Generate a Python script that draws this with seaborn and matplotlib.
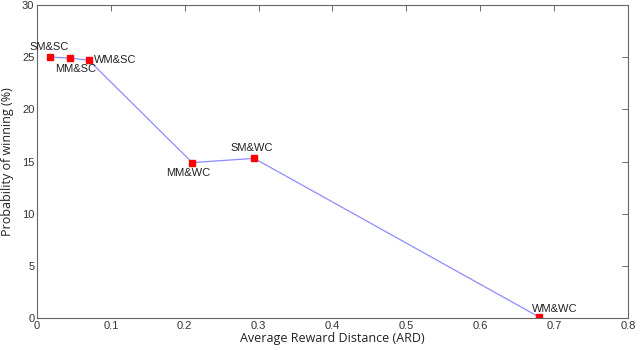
import matplotlib
matplotlib.use('Agg')
import matplotlib.pyplot as plt
import seaborn as sns
import pandas as pd

# data
labels = ['SM&SC', 'MM&SC', 'WM&SC', 'MM&WC', 'SM&WC', 'WM&WC']
ard = [0.018, 0.045, 0.070, 0.210, 0.294, 0.680]
win_prob = [25.0, 24.9, 24.7, 14.9, 15.3, 0.1]

# label offsets in points (dx, dy) and alignment
label_offsets = [(-1, 4, 'center', 'bottom'),
                 (4, -4, 'center', 'top'),
                 (4, 0, 'left', 'center'),
                 (-3, -4, 'center', 'top'),
                 (-2, 4, 'center', 'bottom'),
                 (-5, 2, 'left', 'bottom')]

df = pd.DataFrame({'ard': ard, 'win': win_prob, 'label': labels})

sns.set_style('white')
plt.rcParams['font.family'] = ['Liberation Sans', 'DejaVu Sans']

fig = plt.figure(figsize=(6.4, 3.5), dpi=100)
ax = fig.add_axes([0.058, 0.091, 0.923, 0.895])

sns.lineplot(data=df, x='ard', y='win', sort=False, color='#8c8cff',
             linewidth=0.9, ax=ax)
ax.plot(df['ard'], df['win'], linestyle='none', marker='s', markersize=5,
        color='red', markeredgecolor='red')

for (x, y, lab), (dx, dy, ha, va) in zip(zip(ard, win_prob, labels), label_offsets):
    ax.annotate(lab, (x, y), xytext=(dx, dy), textcoords='offset points',
                ha=ha, va=va, fontsize=8, color='#222222')

ax.set_xlim(0, 0.8)
ax.set_ylim(0, 30)
ax.set_xticks([0, 0.1, 0.2, 0.3, 0.4, 0.5, 0.6, 0.7, 0.8])
ax.set_xticklabels(['0', '0.1', '0.2', '0.3', '0.4', '0.5', '0.6', '0.7', '0.8'])
ax.set_yticks([0, 5, 10, 15, 20, 25, 30])
ax.tick_params(direction='in', length=4, width=0.6, labelsize=8,
               top=True, right=True, colors='#555555', labelcolor='#333333', pad=2)
for sp in ax.spines.values():
    sp.set_color('#666666')
    sp.set_linewidth(0.8)

ax.set_xlabel('Average Reward Distance (ARD)', fontsize=9, color='#222222',
              family=['Open Sans', 'DejaVu Sans'], labelpad=1)
ax.set_ylabel('Probability of winning (%)', fontsize=9, color='#222222',
              family=['Open Sans', 'DejaVu Sans'], labelpad=6)

fig.savefig('out.png', dpi=100)
